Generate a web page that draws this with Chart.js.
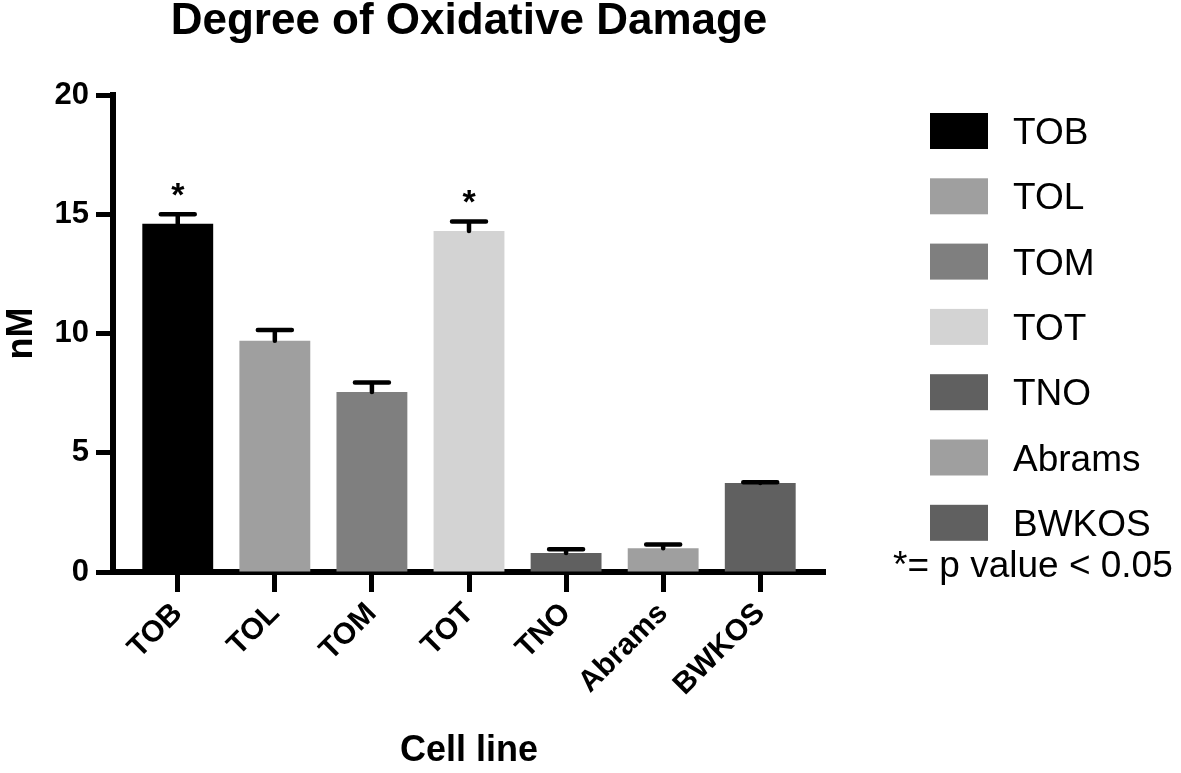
<!DOCTYPE html>
<html>
<head>
<meta charset="utf-8">
<script src="https://cdn.jsdelivr.net/npm/chart.js@4.4.0/dist/chart.umd.min.js"></script>
<style>
  html, body { margin: 0; padding: 0; background: #fff; }
  #wrap { width: 1181px; height: 773px; }
</style>
</head>
<body>
<div id="wrap"><canvas id="bar"></canvas></div>
<script>
// Data
const cellLines = ['TOB', 'TOL', 'TOM', 'TOT', 'TNO', 'Abrams', 'BWKOS'];
const damage = [14.6, 9.7, 7.55, 14.3, 0.8, 1.0, 3.73];
const damageErr = [0.4, 0.45, 0.4, 0.4, 0.15, 0.15, 0.03];
const significant = [true, false, false, true, false, false, false];
const barColors = ['#000000', '#9f9f9f', '#7f7f7f', '#d3d3d3', '#606060', '#9f9f9f', '#606060'];
const yTicks = [0, 5, 10, 15, 20];
const footnote = '*= p value < 0.05';

const FONT = '"Liberation Sans", Arial, Helvetica, sans-serif';
Chart.defaults.font.family = FONT;
Chart.defaults.color = '#000';

// Plugins
const errorBars = {
  id: 'errorBars',
  afterDatasetsDraw: (chart) => {
    const { ctx, scales: { x, y } } = chart;
    ctx.save();
    ctx.strokeStyle = '#000';
    ctx.lineWidth = 4.5;
    ctx.lineCap = 'round';
    damage.forEach((v, i) => {
      const px = x.getPixelForValue(i);
      const top = y.getPixelForValue(v + damageErr[i]);
      const base = y.getPixelForValue(v);
      ctx.beginPath();
      ctx.moveTo(px, base);
      ctx.lineTo(px, top);
      ctx.moveTo(px - 17, top);
      ctx.lineTo(px + 17, top);
      ctx.stroke();
      if (significant[i]) {
        ctx.fillStyle = '#000';
        ctx.font = 'bold 34px ' + FONT;
        ctx.textAlign = 'center';
        ctx.textBaseline = 'alphabetic';
        ctx.fillText('*', px, top - 8);
      }
    });
    ctx.restore();
  }
};

const sideLegend = {
  id: 'sideLegend',
  afterDraw: (chart) => {
    const { ctx } = chart;
    ctx.save();
    ctx.font = '37px ' + FONT;
    ctx.textAlign = 'left';
    ctx.textBaseline = 'alphabetic';
    cellLines.forEach((name, i) => {
      const cy = 131 + i * 65.3;
      ctx.fillStyle = barColors[i];
      ctx.fillRect(930, cy - 18, 58, 36);
      ctx.fillStyle = '#000';
      ctx.fillText(name, 1013, cy + 13);
    });
    ctx.fillText(footnote, 893, 577);
    ctx.restore();
  }
};

// Render
const renderBarChart = () => {
  const ctx = document.getElementById('bar');
  new Chart(ctx, {
    type: 'bar',
    data: {
      datasets: [{
        label: 'Degree of Oxidative Damage',
        data: damage.map((v, i) => ({ x: i, y: v })),
        backgroundColor: barColors,
        borderWidth: 0,
        categoryPercentage: 1,
        barPercentage: 0.73
      }]
    },
    options: {
      responsive: true,
      maintainAspectRatio: false,
      animation: false,
      layout: { padding: { left: 0, right: 356, top: 0, bottom: 0 } },
      plugins: {
        legend: { display: false },
        tooltip: { enabled: false },
        title: {
          display: true,
          text: 'Degree of Oxidative Damage',
          fullSize: false,
          font: { size: 44, weight: 'bold', lineHeight: 1 },
          color: '#000',
          padding: { top: 0, bottom: 51 }
        }
      },
      scales: {
        x: {
          type: 'linear',
          min: -0.667,
          max: 6.667,
          offset: false,
          afterFit: (s) => { s.height = 201; },
          afterBuildTicks: (s) => {
            s.ticks = cellLines.map((_, i) => ({ value: i }));
          },
          ticks: {
            stepSize: 1,
            autoSkip: false,
            includeBounds: false,
            minRotation: 45,
            maxRotation: 45,
            padding: 4,
            font: { size: 30, weight: 'bold' },
            color: '#000',
            callback: (v) => cellLines[v]
          },
          grid: {
            offset: false,
            drawOnChartArea: false,
            drawTicks: true,
            tickLength: 20,
            tickWidth: 5,
            tickColor: '#000'
          },
          border: { display: true, color: '#000', width: 6 },
          title: {
            display: true,
            text: 'Cell line',
            font: { size: 36, weight: 'bold' },
            color: '#000',
            padding: 0
          }
        },
        y: {
          min: 0,
          max: 20,
          afterFit: (s) => { s.width = 113; },
          afterBuildTicks: (s) => {
            s.ticks = yTicks.map((v) => ({ value: v }));
          },
          ticks: {
            padding: 7,
            font: { size: 31, weight: 'bold' },
            color: '#000'
          },
          grid: {
            drawOnChartArea: false,
            drawTicks: true,
            tickLength: 17,
            tickWidth: 5,
            tickColor: '#000'
          },
          border: { display: true, color: '#000', width: 6 },
          title: {
            display: true,
            text: 'nM',
            font: { size: 36, weight: 'bold' },
            color: '#000',
            padding: 0
          }
        }
      }
    },
    plugins: [errorBars, sideLegend]
  });
};

// Main
renderBarChart();
</script>
</body>
</html>
